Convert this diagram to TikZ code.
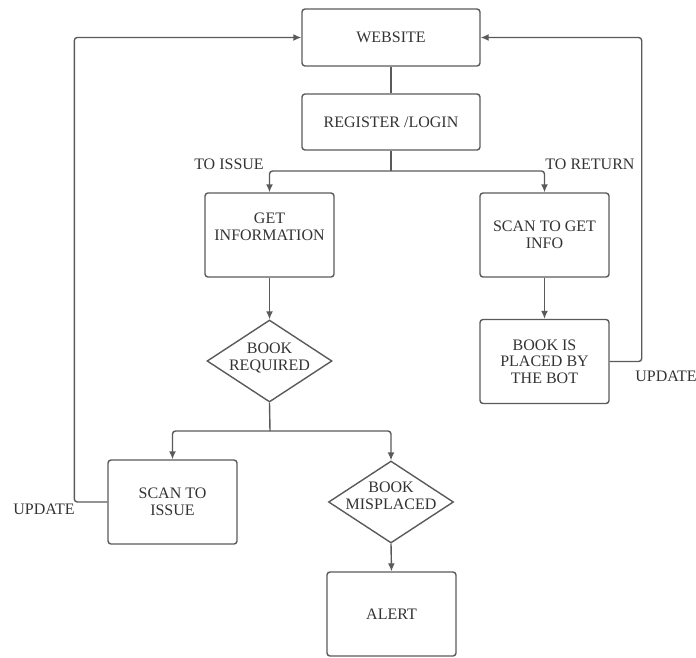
\documentclass[tikz,border=0pt]{standalone}
\usepackage{fontspec}
\setmainfont{Liberation Serif}
\usepackage{tikz}
\usetikzlibrary{arrows.meta,shapes.geometric}
\definecolor{linegray}{HTML}{5A5A5A}
\definecolor{textgray}{HTML}{333333}
\tikzstyle{box}=[draw=linegray,line width=1.4pt,rounded corners=3pt,minimum width=129pt,minimum height=84pt,inner sep=0pt,align=center,text=textgray,font=\fontsize{16}{16.5}\selectfont]
\tikzstyle{decision}=[diamond,draw=linegray,line width=1.4pt,minimum width=125pt,minimum height=82pt,inner sep=0pt]
\tikzstyle{dtext}=[align=center,text=textgray,font=\fontsize{16}{16.5}\selectfont]
\tikzstyle{tag}=[text=textgray,font=\fontsize{16}{16.5}\selectfont]
\tikzstyle{edge}=[draw=linegray,line width=1.4pt,rounded corners=3pt]
\tikzstyle{arr}=[edge,-{Latex[length=8pt,width=7pt]}]

\begin{document}
\begin{tikzpicture}[x=1pt,y=-1pt]
    \useasboundingbox (0,0) rectangle (696,657);
    % First we draw the boxes
    \node[box,minimum width=178pt,minimum height=57pt] (web) at (391,37.5) {WEBSITE};
    \node[box,minimum width=178pt,minimum height=56pt] (reg) at (391,122) {REGISTER /LOGIN};
    \foreach \pos/\name/\txt in {{(269.5,235)/info/{GET\\INFORMATION\\\mbox{}}}, {(544.5,235)/scan/{SCAN TO GET\\INFO}},
        {(544.5,361.5)/placed/{BOOK IS\\PLACED BY\\THE BOT}}, {(172.5,502)/issue/{SCAN TO\\ISSUE}}, {(391.5,614)/alert/{ALERT}}}
        \node[box] (\name) at \pos {\txt};
    % Then the decisions
    \node[decision,label={[dtext,yshift=3pt]center:{BOOK\\REQUIRED}}] (req) at (269.5,361) {};
    \node[decision,label={[dtext,yshift=6pt]center:{BOOK\\MISPLACED}}] (misp) at (391,502) {};
    % Split points
    \coordinate (split1) at (391,171);
    \coordinate (split2) at (270,431);
    % Connect boxes with edges
    \path[edge] (web) -- (reg);
    \path[edge] (reg) -- (split1);
    \path[arr] (split1) -| (info.north);
    \path[arr] (split1) -| (scan.north);
    \path[edge] (req.south) -- (split2);
    \path[arr] (split2) -| (issue.north);
    \path[arr] (split2) -| (misp.north);
    \foreach \source/\dest in {info/req, scan/placed, misp/alert}
        \path[arr] (\source.south) -- (\dest.north);
    % Update loops
    \path[arr] (issue.west) -- ++(-33,0) |- (web.west);
    \path[arr] (placed.east) -- ++(32,0) |- (web.east);
    % Labels
    \node[tag] (toissue) at (229,164) {TO ISSUE};
    \node[tag] (toreturn) at (590,164) {TO RETURN};
    \node[tag] (updl) at (44,509) {UPDATE};
    \node[tag] (updr) at (666,376) {UPDATE};
\end{tikzpicture}
\end{document}
